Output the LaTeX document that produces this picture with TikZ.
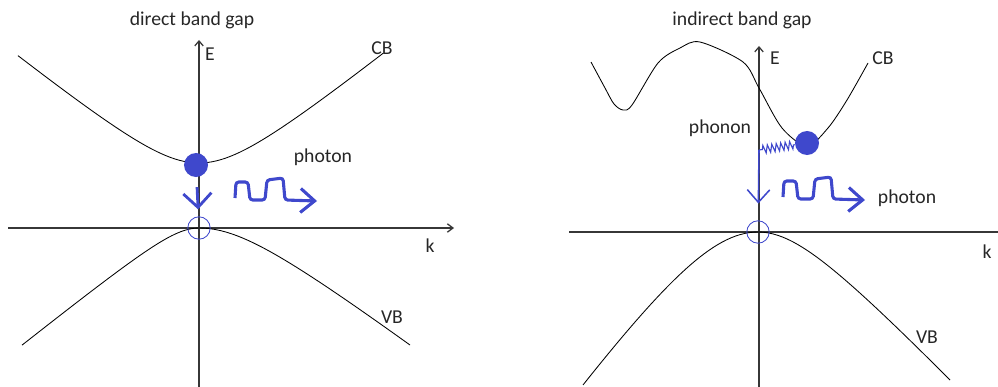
\documentclass[tikz,border=0pt]{standalone}
\usepackage{fontspec}
\setmainfont{Carlito}
\usetikzlibrary{arrows.meta,decorations.pathmorphing}
\definecolor{paintblue}{RGB}{63,72,204}
\definecolor{axisgray}{RGB}{55,55,55}

\begin{document}
\begin{tikzpicture}[x=0.025cm, y=-0.025cm, font=\fontsize{14}{16}\selectfont,
  axis/.style={draw=axisgray, line width=0.9pt},
  band/.style={black, line width=0.6pt},
  lbl/.style={inner sep=0pt, text=black!85},
  electron/.style={circle, fill=paintblue, minimum size=0.6cm, inner sep=0pt},
  hole/.style={circle, draw=paintblue, line width=0.6pt, minimum size=0.56cm, inner sep=0pt},
  trans/.style={paintblue, line width=2pt, -{Straight Barb[length=10pt, width=20pt]}},
  photon/.style={paintblue, line width=2.2pt, rounded corners=2pt, -{Straight Barb[length=10pt, width=17pt]}},
  phonon/.style={paintblue, line width=0.8pt, decorate, decoration={zigzag, segment length=3.2pt, amplitude=2.8pt, pre length=1pt, post length=2pt}}]
\useasboundingbox (0,0) rectangle (998,387);
% direct band gap
\draw[axis, -{Straight Barb[length=3.5pt, width=6pt]}] (199,387) -- (199,40);
\draw[axis, -{Straight Barb[length=4pt, width=6pt]}] (8,228) -- (454,228);
\draw[band] plot[domain=-18.1:18.4, samples=80] ({199+10*\x}, {163-10*(sqrt(19.36+0.64*\x*\x)-4.4)});
\draw[band] plot[domain=-17.7:0, samples=40] ({199+10*\x}, {228+10*(sqrt(7.29+0.64*\x*\x)-2.7)})
  -- plot[domain=0:21.1, samples=40] ({199+10*\x}, {228+10*(sqrt(23.52+0.5625*\x*\x)-4.85)});
\node[electron] (eDir) at (196,165) {};
\node[hole] (hDir) at (199,228) {};
\draw[trans, shorten <=7pt, shorten >=5pt] (eDir) -- (hDir);
\node[lbl] (tDir) at (192,20) {direct band gap};
\node[lbl] (eLblDir) at (210,54) {E};
\node[lbl] (cbDir) at (382,48) {CB};
\node[lbl] (vbDir) at (392,317) {VB};
\node[lbl] (kDir) at (430,246) {k};
\node[lbl] (phoDir) at (323,157) {photon};
% indirect band gap
\draw[axis, -{Straight Barb[length=3.5pt, width=6pt]}] (759,387) -- (759,46);
\draw[axis] (569,232) -- (998,232);
\draw[band] plot[smooth] coordinates {(591,62) (605,88) (614,104) (623,110) (632,105) (658,63) (680,48) (700,42) (743,62) (759,88) (782,128) (807,146) (828,128) (847,100) (868,63)};
\draw[band] plot[domain=-17.5:0, samples=40] ({758+10*\x}, {232+10*(sqrt(143.3+1.96*\x*\x)-11.97)})
  -- plot[domain=0:19.2, samples=40] ({758+10*\x}, {232+10*(sqrt(40.07+1.1025*\x*\x)-6.33)});
\node[electron] (eInd) at (807,143) {};
\node[hole] (hInd) at (758,232) {};
\coordinate (phEnd) at (759,150);
\draw[phonon] (eInd) -- (phEnd);
\draw[trans, line width=1.1pt, -{Straight Barb[length=9pt, width=16pt]}, shorten >=12pt] (phEnd) -- (hInd);
\node[lbl] (tInd) at (742,20) {indirect band gap};
\node[lbl] (eLblInd) at (775,58) {E};
\node[lbl] (cbInd) at (883,58) {CB};
\node[lbl] (vbInd) at (927,337) {VB};
\node[lbl] (kInd) at (987,252) {k};
\node[lbl] (phnInd) at (720,128) {phonon};
\node[lbl] (phoInd) at (907,198) {photon};
% emitted photons
\foreach \sx/\sy in {235/198, 783/197}
  \draw[photon, shift={(\sx,\sy)}] (0,0) -- (1,-16) -- (13,-16) -- (15,2) -- (30,2) -- (32,-18) -- (48,-20) -- (50,2) -- (82,3);
\end{tikzpicture}
\end{document}
